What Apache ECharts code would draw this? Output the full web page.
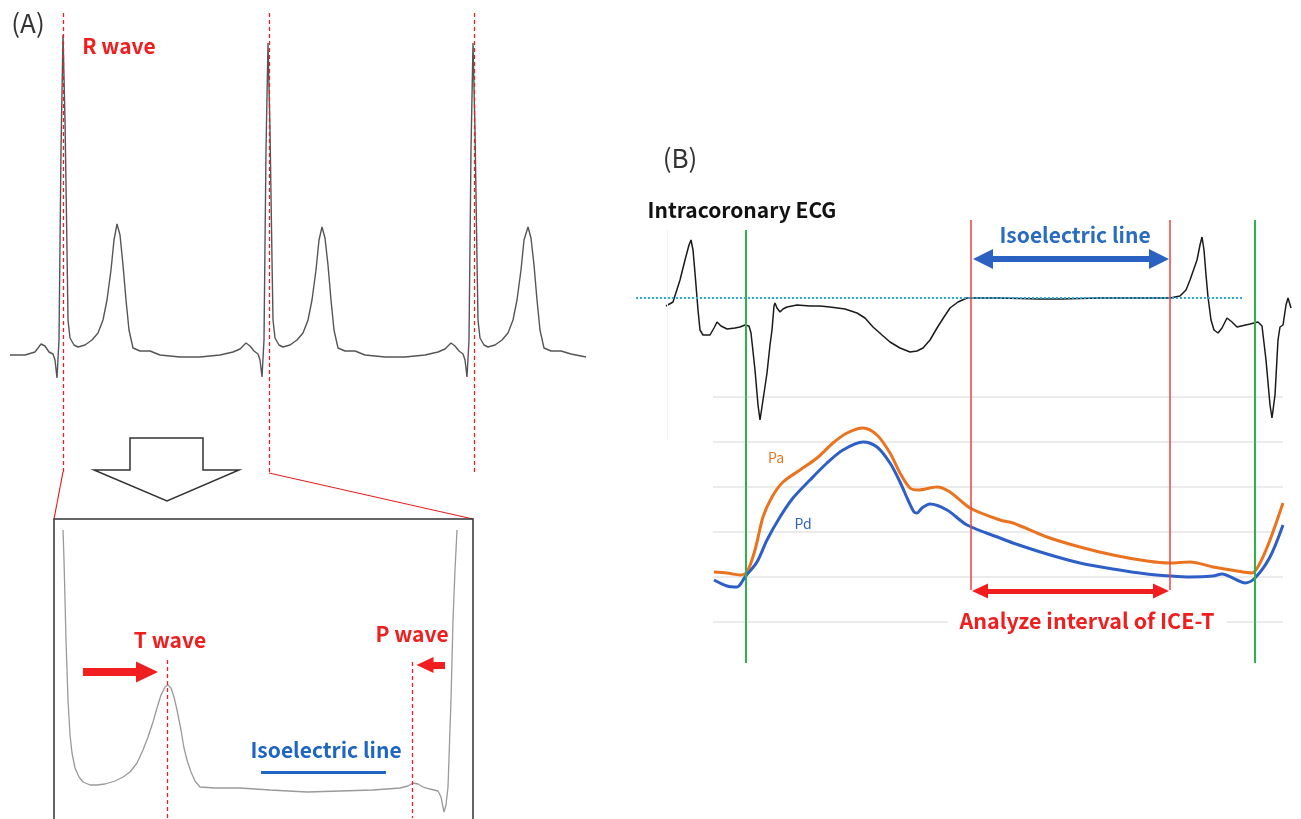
<!DOCTYPE html>
<html>
<head>
<meta charset="utf-8">
<script src="https://cdn.jsdelivr.net/npm/echarts@6/dist/echarts.min.js"></script>
<style>
  html, body { margin: 0; padding: 0; background: #fff; }
  #main { width: 1301px; height: 819px; }
</style>
</head>
<body>
<div id="main"></div>
<script>
// (A) surface ECG, 3 beats: [sample, amplitude] with baseline 0
var ecgA = [
  [0,0],[15,0],[25,3],[31,11],[35,9],[39,3],[43,1],[45,-5],[47,-23],[49,15],[51,205],[53,320],[55,235],[57,105],[58,35],[60,17],
  [64,10],[68,8],[75,10],[82,15],[88,22],[93,35],[97,55],[101,85],[104,115],[107,131],[110,120],[113,90],[116,55],[119,25],[123,7],
  [130,4],[140,4],[150,0],[170,-2],[190,-2],[210,0],[223,3],[230,6],[236,12],[240,9],[244,4],[248,1],[250,-5],[252,-22],[254,15],
  [256,205],[258,312],[260,225],[262,95],[263,35],[265,17],[269,10],[273,8],[280,10],[287,15],[293,22],[298,35],[302,55],[306,85],
  [309,115],[312,128],[315,117],[318,90],[321,55],[324,25],[328,7],[335,4],[345,4],[355,0],[375,-2],[395,-2],[415,0],[428,3],[435,6],
  [441,12],[445,9],[449,4],[453,1],[455,-5],[457,-22],[459,15],[461,205],[463,312],[465,225],[467,95],[468,35],[470,17],[474,10],
  [478,8],[485,10],[492,15],[498,22],[503,35],[507,55],[511,85],[514,115],[518,128],[521,117],[524,90],[527,55],[530,25],[534,7],
  [541,4],[551,4],[561,1],[576,-2]
];
var rWaveX = [53, 259, 464];

// (A) enlarged beat between two R waves
var ecgZoom = [
  [9,257],[10,227],[12,147],[14,87],[16,52],[18,34],[21,19],[25,10],[29,5],[36,2],[43,2],[51,3],[61,6],[69,10],[76,15],[83,24],
  [89,37],[94,50],[99,65],[103,79],[107,92],[111,100],[114,102],[117,99],[120,90],[123,77],[127,57],[130,39],[133,27],[137,15],
  [141,6],[146,0],[161,-1],[186,-1],[216,-3],[253,-5],[286,-4],[319,-3],[346,-1],[354,1],[359,4],[364,3],[369,0],[376,-2],[384,-4],
  [387,-10],[390,-25],[392,-18],[394,0],[397,87],[399,167],[401,217],[403,257]
];
var tWaveX = 113, pWaveX = 358;
var isoZoom = [207, 332, 15];

// (B) intracoronary ECG: [sample, amplitude], isoelectric = 0
var ecgB = [
  [30,-8],[37,-4],[44,18],[49,38],[53,53],[55,58],[57,48],[59,25],[62,-12],[64,-32],[67,-37],[74,-37],[78,-30],[81,-24],[85,-28],
  [91,-31],[99,-30],[104,-29],[109,-27],[111,-25],[113,-28],[115,-35],[119,-72],[122,-107],[124,-122],[127,-102],[131,-75],[134,-47],
  [136,-32],[138,-8],[139,-5],[141,-10],[144,-14],[147,-11],[151,-9],[161,-7],[174,-8],[184,-8],[194,-9],[209,-11],[221,-15],[229,-20],
  [237,-29],[246,-37],[254,-44],[264,-50],[274,-54],[281,-53],[287,-50],[294,-42],[301,-30],[308,-19],[314,-10],[322,-4],[331,0],
  [335,0],[364,0],[404,-1],[424,-1],[464,0],[504,0],[534,0],[544,2],[550,8],[554,18],[561,38],[564,53],[566,61],[568,48],[570,23],
  [572,1],[575,-22],[578,-32],[582,-35],[586,-30],[591,-20],[596,-24],[601,-29],[614,-26],[622,-24],[626,-28],[630,-62],[634,-107],
  [636,-120],[639,-97],[642,-42],[644,-29],[647,-27],[650,-7],[652,0],[655,-10]
];
var greenX = [110, 619];
var redX = [335, 534];

// (B) pressures
var pa = [
  [1,50],[14,49],[27,47],[34,50],[42,72],[50,105],[59,125],[70,140],[87,152],[104,164],[120,179],[134,189],[150,194],[164,187],
  [177,169],[187,149],[197,134],[205,132],[224,135],[237,130],[257,114],[287,102],[300,99],[334,85],[367,75],[400,67],[434,61],
  [457,59],[477,60],[500,55],[524,51],[539,49],[547,59],[557,82],[570,119]
];
var pd = [
  [1,42],[14,36],[24,35],[32,45],[44,60],[54,82],[67,105],[80,124],[97,142],[114,159],[130,172],[150,180],[164,175],[177,159],
  [187,140],[195,122],[201,110],[204,109],[209,114],[217,118],[234,112],[254,97],[287,84],[300,79],[334,68],[367,59],[400,53],
  [434,48],[457,46],[477,45],[500,46],[509,48],[524,42],[532,39],[542,44],[557,65],[570,97]
];

var RED = '#f01e1e', BLUE = '#2b62c2', JP = '"Noto Sans CJK JP"';

function seg(x1, y1, x2, y2, color, width, type) {
  return [
    { coord: [x1, y1], symbol: 'none', lineStyle: { color: color, width: width, type: type || 'solid' } },
    { coord: [x2, y2], symbol: 'none' }
  ];
}
function arrow(x1, y1, x2, y2, color, width, size, both) {
  return [
    { coord: [x1, y1], symbol: both ? 'triangle' : 'none', symbolSize: size,
      itemStyle: { color: color }, lineStyle: { color: color, width: width, type: 'solid' } },
    { coord: [x2, y2], symbol: 'triangle', symbolSize: size, itemStyle: { color: color } }
  ];
}
function label(x, y, text, color, font, extra) {
  var st = { text: text, fill: color, font: font, align: 'center', verticalAlign: 'middle',
             textAlign: 'center', textVerticalAlign: 'middle' };
  for (var k in extra) st[k] = extra[k];
  return { type: 'text', x: x, y: y, z: 50, style: st };
}

var chart = echarts.init(document.getElementById('main'));
var hidden = { show: false };
var option = {
  backgroundColor: '#fff',
  animation: false,
  grid: [
    { left: 10, top: 10, width: 580, height: 462 },
    { left: 54, top: 519, width: 419, height: 299 },
    { left: 636, top: 218, width: 655, height: 445 },
    { left: 713, top: 397, width: 570, height: 225 }
  ],
  xAxis: [
    { gridIndex: 0, type: 'value', min: 0, max: 580, show: false },
    { gridIndex: 1, type: 'value', min: 0, max: 419, show: false },
    { gridIndex: 2, type: 'value', min: 0, max: 655, show: false },
    { gridIndex: 3, type: 'value', min: 0, max: 570, show: false }
  ],
  yAxis: [
    { gridIndex: 0, type: 'value', min: -117, max: 345, show: false },
    { gridIndex: 1, type: 'value', min: -31, max: 268, show: false },
    { gridIndex: 2, type: 'value', min: -365, max: 80, show: false },
    { gridIndex: 3, type: 'value', min: 0, max: 225, interval: 45,
      axisLine: hidden, axisTick: hidden, axisLabel: hidden,
      splitLine: { show: true, lineStyle: { color: '#e4e4e4', width: 1.5 } } }
  ],
  series: [
    {
      type: 'line', xAxisIndex: 0, yAxisIndex: 0, data: ecgA, symbol: 'none',
      lineStyle: { color: '#555', width: 1.4 }, z: 2,
      markLine: { silent: true, animation: false, label: hidden, symbol: 'none',
        data: rWaveX.map(function (x) { return seg(x, -117, x, 345, '#e52222', 1.3, [4, 3]); }) }
    },
    {
      type: 'line', xAxisIndex: 1, yAxisIndex: 1, data: ecgZoom, symbol: 'none',
      lineStyle: { color: '#9a9a9a', width: 1.3 }, z: 2,
      markLine: { silent: true, animation: false, label: hidden, symbol: 'none',
        data: [
          seg(tWaveX, 127, tWaveX, -31, '#e52222', 1.3, [4, 3]),
          seg(pWaveX, 125, pWaveX, -31, '#e52222', 1.3, [4, 3]),
          seg(isoZoom[0], isoZoom[2], isoZoom[1], isoZoom[2], '#1f66c4', 3),
          arrow(29, 115, 93, 115, RED, 8, [21, 22]),
          arrow(391, 122, 371, 122, RED, 7, [16, 17])
        ] }
    },
    {
      type: 'line', xAxisIndex: 2, yAxisIndex: 2, data: ecgB, symbol: 'none',
      lineStyle: { color: '#1a1a1a', width: 1.5 }, z: 4,
      markLine: { silent: true, animation: false, label: hidden, symbol: 'none',
        data: [
          seg(31, -142, 31, 68, '#f0f0f0', 1),
          seg(0, 0, 607, 0, '#2aa8e6', 2, [2, 2]),
          seg(greenX[0], 68, greenX[0], -365, '#2cb34a', 2),
          seg(greenX[1], 78, greenX[1], -365, '#2cb34a', 2),
          seg(redX[0], 78, redX[0], -292, '#f04040', 1.5),
          seg(redX[1], 78, redX[1], -292, '#f04040', 1.5),
          arrow(347, 39, 523, 39, BLUE, 6, [20, 20], true),
          arrow(344, -293, 525, -293, RED, 5, [15, 16], true)
        ] }
    },
    {
      type: 'line', xAxisIndex: 3, yAxisIndex: 3, data: pa, symbol: 'none', smooth: 0.3,
      lineStyle: { color: '#ea7320', width: 3 }, z: 3
    },
    {
      type: 'line', xAxisIndex: 3, yAxisIndex: 3, data: pd, symbol: 'none', smooth: 0.3,
      lineStyle: { color: '#2d5fc6', width: 3 }, z: 3
    }
  ],
  graphic: [
    { type: 'line', shape: { x1: 63, y1: 472, x2: 54, y2: 519 }, style: { stroke: '#e52222', lineWidth: 1.2 } },
    { type: 'line', shape: { x1: 269, y1: 473, x2: 473, y2: 519 }, style: { stroke: '#e52222', lineWidth: 1.2 } },
    { type: 'polyline', shape: { points: [[54, 822], [54, 519], [473, 519], [473, 822]] },
      style: { fill: null, stroke: '#333', lineWidth: 1.5 } },
    { type: 'polygon', shape: { points: [[130, 438], [203, 438], [203, 470], [239, 470], [167, 501], [94, 470], [130, 470]] },
      style: { fill: '#fff', stroke: '#333', lineWidth: 1.5 } },
    label(28, 23, '(A)', '#333', '26px ' + JP),
    label(119, 46, 'R wave', RED, 'bold 21px ' + JP),
    label(170, 640, 'T wave', RED, 'bold 21px ' + JP),
    label(412, 634, 'P wave', RED, 'bold 21px ' + JP),
    label(326, 750, 'Isoelectric line', '#1f66c4', 'bold 21px ' + JP),
    label(680, 158, '(B)', '#333', '26px ' + JP),
    label(742, 210, 'Intracoronary ECG', '#111', 'bold 21px ' + JP),
    label(1075, 235, 'Isoelectric line', '#2a6cc0', 'bold 21px ' + JP),
    label(776, 458, 'Pa', '#ea7320', '14px ' + JP),
    label(803, 524, 'Pd', '#2d5fc6', '14px ' + JP),
    label(1087, 621, 'Analyze interval of ICE-T', RED, 'bold 21.5px ' + JP, { backgroundColor: '#fff', padding: [2, 12] })
  ]
};
chart.setOption(option);
</script>
</body>
</html>
